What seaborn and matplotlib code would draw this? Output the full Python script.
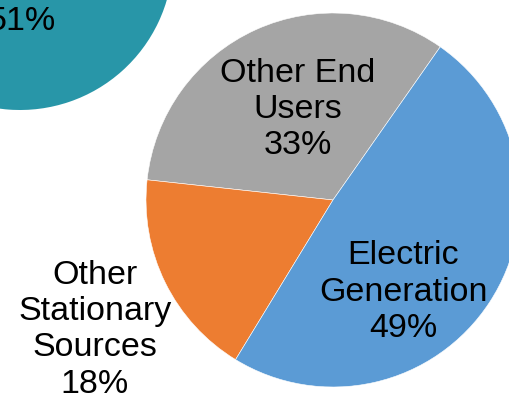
import matplotlib
matplotlib.use("Agg")
import matplotlib.pyplot as plt
import seaborn as sns
import numpy as np

# --- data ---
sectors = ["Other End\nUsers", "Other\nStationary\nSources", "Electric\nGeneration"]
shares = [33, 18, 49]
sector_colors = ["#A5A5A5", "#ED7D31", "#5B9BD5"]

left_shares = [51, 49]
left_colors = ["#2896A8", "#2896A8"]

sns.set_style("white")
plt.rcParams["font.family"] = ["Liberation Sans", "DejaVu Sans"]
plt.rcParams["text.color"] = "black"

fig = plt.figure(figsize=(5.1, 4.01), dpi=100)
ax = fig.add_axes([0, 0, 1, 1])
ax.set_xlim(0, 510)
ax.set_ylim(0, 401)
ax.set_aspect("equal")
ax.axis("off")

# partially visible pie in the upper-left corner
ax.pie(left_shares, colors=left_colors, center=(20, 444), radius=153,
       startangle=-140, counterclock=True, frame=True,
       wedgeprops=dict(linewidth=0))
ax.text(22, 379, f"{left_shares[0]}%", fontsize=24.5, ha="center", va="center")

# main pie
wedges, _ = ax.pie(shares, colors=sector_colors, center=(333, 201), radius=187,
                   startangle=55, counterclock=True, frame=True,
                   wedgeprops=dict(edgecolor="white", linewidth=0.4))

# labels: (radius fraction, angle in degrees)
label_pos = [(0.52, 111.5), (1.45, 208.6), (0.62, -52.7)]
for name, val, (r, a) in zip(sectors, shares, label_pos):
    x = 333 + r * 187 * np.cos(np.radians(a))
    y = 201 + r * 187 * np.sin(np.radians(a))
    ax.text(x, y, f"{name}\n{val}%", fontsize=24.5, ha="center", va="center",
            linespacing=1.22)

ax.set_xlim(0, 510)
ax.set_ylim(0, 401)
ax.axis("off")
fig.savefig("out.png", dpi=100)
